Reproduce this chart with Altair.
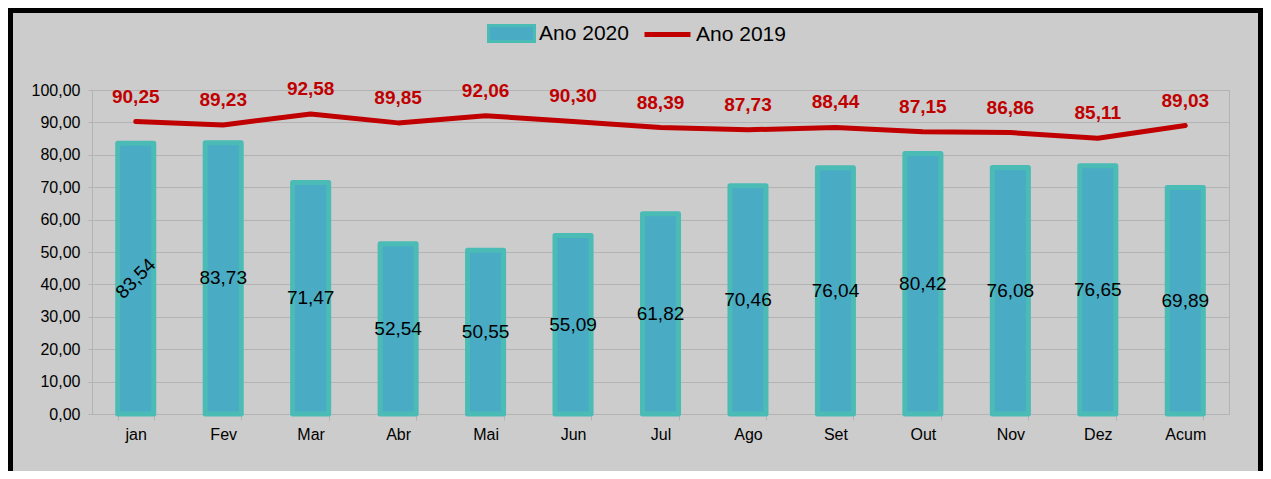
import altair as alt
import pandas as pd

months = ["jan", "Fev", "Mar", "Abr", "Mai", "Jun", "Jul", "Ago", "Set", "Out", "Nov", "Dez", "Acum"]
v2020 = [83.54, 83.73, 71.47, 52.54, 50.55, 55.09, 61.82, 70.46, 76.04, 80.42, 76.08, 76.65, 69.89]
v2019 = [90.25, 89.23, 92.58, 89.85, 92.06, 90.30, 88.39, 87.73, 88.44, 87.15, 86.86, 85.11, 89.03]
series = ["Ano 2020", "Ano 2019"]
yticks = [0, 10, 20, 30, 40, 50, 60, 70, 80, 90, 100]

df = pd.DataFrame({
    "mes": months,
    "v2020": v2020,
    "v2019": v2019,
    "s2020": series[0],
    "s2019": series[1],
})

FONT = "Liberation Sans"
GRID = "#b3b3b3"
TEAL_EDGE = "#4bbbb5"
TEAL_FILL = "#4aabc4"
RED = "#c00000"

yscale = alt.Scale(domain=[0, 100])
yaxis = alt.Axis(
    title=None, values=yticks, tickSize=4, labelPadding=8,
    labelFontSize=16, labelColor="black", labelFont=FONT,
    labelExpr="replace(format(datum.value, '.2f'), '.', ',')",
    gridColor=GRID, domainColor=GRID, tickColor=GRID,
)

base = alt.Chart(df).encode(
    x=alt.X(
        "mes:N",
        sort=months,
        scale=alt.Scale(paddingInner=0.588, paddingOuter=0.294),
        axis=alt.Axis(
            title=None, labelAngle=0, tickBand="extent", tickSize=6,
            labelPadding=6, labelFontSize=16, labelColor="black", labelFont=FONT,
            domainColor=GRID, tickColor=GRID, grid=False,
        ),
    )
)

bars = base.mark_bar(stroke=TEAL_EDGE, strokeWidth=5, strokeJoin="round").encode(
    y=alt.Y("v2020:Q", scale=yscale, axis=yaxis),
    fill=alt.Fill(
        "s2020:N",
        scale=alt.Scale(domain=[series[0]], range=[TEAL_FILL]),
        legend=alt.Legend(
            title=None, orient="none", legendX=395, legendY=-81,
            symbolType="M-1,-0.35H1V0.35H-1Z", symbolSize=2116,
            symbolStrokeColor=TEAL_EDGE, symbolStrokeWidth=3,
            labelFontSize=21, labelFont=FONT, labelColor="black", labelOffset=3,
            padding=0,
        ),
    ),
)

bar_labels = base.transform_calculate(
    mid="datum.v2020 / 2",
    lab="replace(format(datum.v2020, '.2f'), '.', ',')",
).mark_text(fontSize=19, color="black", font=FONT, baseline="middle", align="center").encode(
    y=alt.Y("mid:Q", scale=yscale, axis=yaxis),
    text="lab:N",
    angle=alt.condition("datum.mes == 'jan'", alt.value(315), alt.value(0)),
)

line = base.mark_line(strokeWidth=5, strokeCap="round", strokeJoin="round").encode(
    y=alt.Y("v2019:Q", scale=yscale, axis=yaxis),
    stroke=alt.Stroke(
        "s2019:N",
        scale=alt.Scale(domain=[series[1]], range=[RED]),
        legend=alt.Legend(
            title=None, orient="none", legendX=550, legendY=-81,
            symbolType="stroke", symbolSize=2116, symbolStrokeWidth=5,
            labelFontSize=21, labelFont=FONT, labelColor="black", labelOffset=3,
            padding=0,
        ),
    ),
)

line_labels = base.transform_calculate(
    lab19="replace(format(datum.v2019, '.2f'), '.', ',')",
).mark_text(fontSize=19, fontWeight="bold", color=RED, font=FONT, dy=-25,
            baseline="middle", align="center").encode(
    y=alt.Y("v2019:Q", scale=yscale, axis=yaxis),
    text="lab19:N",
)

frame = alt.Chart(alt.Data(values=[{"k": 1}])).mark_rect(
    fillOpacity=0, stroke="black", strokeWidth=8
).encode(
    x=alt.value(-83), x2=alt.value(1170), y=alt.value(-81), y2=alt.value(500)
)

chart = alt.layer(bars, bar_labels, line, line_labels, frame).resolve_legend(
    fill="independent", stroke="independent"
).properties(
    width=1137, height=324,
    padding={"left": 84, "top": 82, "right": 34, "bottom": 57},
    autosize=alt.AutoSizeParams(type="none"),
).configure(
    background="#cccccc", font=FONT
).configure_view(
    stroke=GRID
)

chart.save("out.html", embed_options={"renderer": "svg", "actions": False})
